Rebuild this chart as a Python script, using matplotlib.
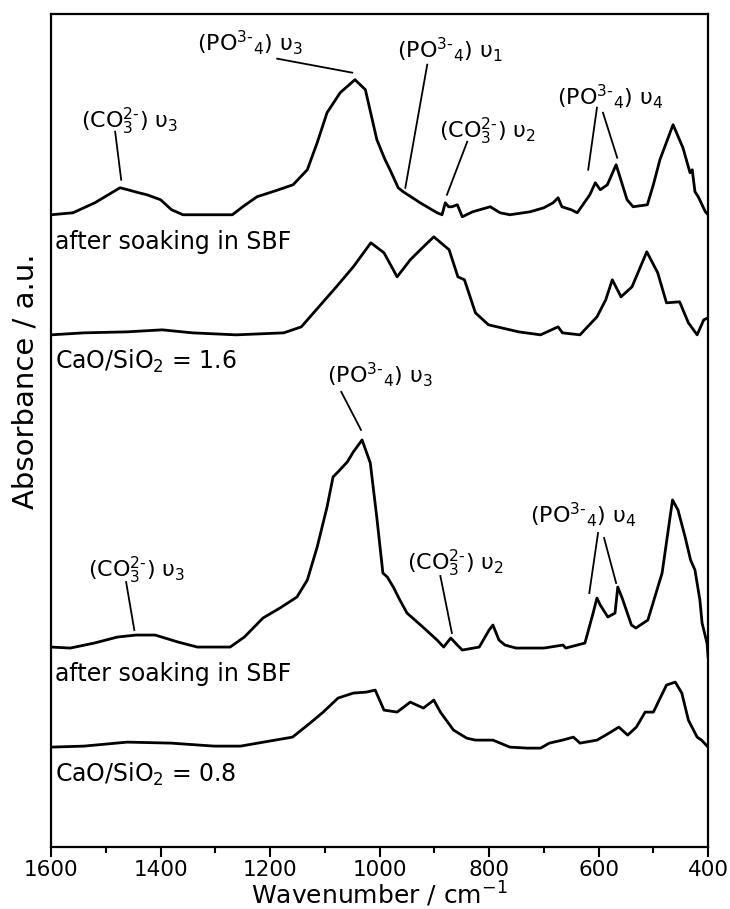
import numpy as np
import matplotlib.pyplot as plt
from matplotlib.ticker import MultipleLocator

plt.rcParams['font.family'] = ['DejaVu Sans']
plt.rcParams['mathtext.default'] = 'regular'

# FTIR spectra, wavenumber (cm-1) and absorbance above each baseline (a.u.)
wn_sbf16 = np.array([1600, 1560, 1520, 1474, 1460, 1440, 1425, 1400, 1380, 1359, 1269, 1250,
                     1224, 1190, 1158, 1132, 1114, 1096, 1072, 1045, 1026, 1005, 990, 981,
                     966, 957, 940, 926, 895, 886, 880, 874, 868, 858, 849, 830, 798, 780,
                     762, 725, 700, 683, 674, 667, 650, 639, 616, 606, 597, 584, 568, 548,
                     537, 511, 500, 488, 464, 446, 433, 429, 424, 418, 405, 400])
abs_sbf16 = np.array([0.00, 0.02, 0.12, 0.27, 0.25, 0.22, 0.20, 0.15, 0.05, 0.00, 0.00, 0.08,
                      0.18, 0.24, 0.30, 0.45, 0.72, 1.02, 1.22, 1.35, 1.25, 0.75, 0.55, 0.45,
                      0.27, 0.23, 0.17, 0.12, 0.02, 0.00, 0.12, 0.08, 0.08, 0.10, -0.02, 0.03,
                      0.08, 0.02, 0.00, 0.03, 0.07, 0.12, 0.17, 0.08, 0.05, 0.02, 0.20, 0.32,
                      0.25, 0.30, 0.50, 0.15, 0.08, 0.10, 0.30, 0.55, 0.90, 0.67, 0.42, 0.45,
                      0.23, 0.18, 0.03, 0.00])

wn_16 = np.array([1600, 1540, 1461, 1397, 1342, 1262, 1175, 1143, 1111, 1079, 1048, 1016,
                  992, 968, 944, 920, 901, 873, 857, 845, 825, 801, 746, 706, 674, 666,
                  634, 603, 587, 575, 559, 539, 512, 492, 476, 452, 436, 420, 408, 400])
abs_16 = np.array([0.00, 0.02, 0.03, 0.05, 0.02, 0.00, 0.02, 0.08, 0.28, 0.48, 0.68, 0.92,
                   0.82, 0.58, 0.75, 0.88, 0.98, 0.85, 0.58, 0.55, 0.22, 0.10, 0.03, 0.00,
                   0.08, 0.02, 0.00, 0.18, 0.35, 0.55, 0.38, 0.48, 0.83, 0.62, 0.32, 0.33,
                   0.12, 0.00, 0.15, 0.17])

wn_sbf08 = np.array([1600, 1565, 1521, 1479, 1445, 1410, 1368, 1333, 1273, 1247, 1213, 1182,
                     1151, 1132, 1114, 1096, 1085, 1076, 1059, 1048, 1032, 1017, 1005, 994,
                     986, 975, 963, 950, 921, 895, 883, 870, 858, 849, 818, 800, 793, 782,
                     771, 751, 700, 665, 660, 625, 610, 603, 597, 583, 570, 565, 557, 540,
                     532, 510, 484, 465, 455, 442, 432, 424, 415, 411, 402, 400])
abs_sbf08 = np.array([0.00, -0.01, 0.04, 0.10, 0.12, 0.12, 0.05, 0.00, 0.00, 0.10, 0.29, 0.39,
                      0.50, 0.67, 1.00, 1.40, 1.70, 1.75, 1.85, 1.95, 2.07, 1.84, 1.29, 0.74,
                      0.70, 0.60, 0.47, 0.34, 0.20, 0.07, 0.00, 0.09, 0.02, -0.03, 0.00, 0.17,
                      0.22, 0.07, 0.02, -0.01, -0.01, 0.02, -0.01, 0.04, 0.34, 0.49, 0.42, 0.30,
                      0.34, 0.60, 0.49, 0.22, 0.19, 0.27, 0.74, 1.47, 1.37, 1.10, 0.87, 0.77,
                      0.47, 0.24, 0.04, -0.10])

wn_08 = np.array([1600, 1540, 1461, 1381, 1302, 1254, 1191, 1159, 1127, 1103, 1076, 1048,
                  1024, 1008, 992, 968, 944, 920, 901, 889, 865, 841, 825, 793, 762, 730,
                  706, 690, 666, 646, 634, 603, 587, 563, 547, 531, 515, 500, 476, 460,
                  448, 436, 420, 412, 400])
abs_08 = np.array([0.00, 0.01, 0.05, 0.04, 0.01, 0.01, 0.07, 0.10, 0.24, 0.35, 0.49, 0.54,
                   0.55, 0.57, 0.37, 0.35, 0.45, 0.39, 0.47, 0.35, 0.17, 0.09, 0.07, 0.07,
                   0.00, -0.01, -0.01, 0.04, 0.07, 0.10, 0.04, 0.07, 0.12, 0.20, 0.12, 0.20,
                   0.35, 0.35, 0.62, 0.65, 0.54, 0.27, 0.10, 0.07, 0.00])

# vertical stacking of the four spectra
offsets = [6.32, 5.12, 2.00, 1.00]
sample_labels = ['after soaking in SBF', r'CaO/SiO$_2$ = 1.6',
                 'after soaking in SBF', r'CaO/SiO$_2$ = 0.8']

fig = plt.figure(figsize=(7.3, 9.09), dpi=100)
ax = fig.add_axes([0.070, 0.068, 0.900, 0.917])

spectra = [(wn_sbf16, abs_sbf16), (wn_16, abs_16), (wn_sbf08, abs_sbf08), (wn_08, abs_08)]
for (wn, a), off in zip(spectra, offsets):
    ax.plot(wn, a + off, color='black', lw=2.0, solid_joinstyle='round')

# sample names under each baseline
for off, lab in zip(offsets, sample_labels):
    ax.text(1593, off - 0.27, lab, fontsize=17, ha='left', va='center')

# band assignments: text position, then pointer lines
po4_v3 = r'(PO$^{3\text{-}}{}_{4}$) υ$_3$'
po4_v1 = r'(PO$^{3\text{-}}{}_{4}$) υ$_1$'
po4_v4 = r'(PO$^{3\text{-}}{}_{4}$) υ$_4$'
co3_v3 = r'(CO$_3^{2\text{-}}$) υ$_3$'
co3_v2 = r'(CO$_3^{2\text{-}}$) υ$_2$'

bands = [
    (co3_v3, 1456, 7.25, [((1483, 7.15), (1472, 6.67))]),
    (po4_v3, 1237, 8.04, [((1187, 7.88), (1050, 7.74))]),
    (po4_v1, 871, 7.97, [((913, 7.82), (953, 6.59))]),
    (co3_v2, 802, 7.15, [((840, 7.05), (877, 6.52))]),
    (po4_v4, 579, 7.50, [((603, 7.39), (619, 6.77)), ((592, 7.34), (566, 6.89))]),
    (po4_v3, 1000, 4.72, [((1070, 4.55), (1034, 4.17))]),
    (co3_v3, 1443, 2.77, [((1463, 2.65), (1448, 2.17))]),
    (co3_v2, 862, 2.84, [((889, 2.71), (868, 2.14))]),
    (po4_v4, 628, 3.32, [((601, 3.14), (617, 2.54)), ((590, 3.09), (568, 2.64))]),
]
for txt, tx, ty, lines in bands:
    ax.text(tx, ty, txt, fontsize=16, ha='center', va='center')
    for (x0, y0), (x1, y1) in lines:
        ax.plot([x0, x1], [y0, y1], color='black', lw=1.3)

ax.set_xlim(1600, 400)
ax.set_ylim(0, 8.33)
ax.xaxis.set_major_locator(MultipleLocator(200))
ax.xaxis.set_minor_locator(MultipleLocator(100))
ax.tick_params(axis='x', which='major', direction='out', length=7, width=1.5,
               labelsize=15.5, pad=2, top=False)
ax.tick_params(axis='x', which='minor', direction='out', length=4, width=1.5, top=False)
ax.set_yticks([])
for sp in ax.spines.values():
    sp.set_linewidth(1.6)

ax.set_xlabel(r'Wavenumber / cm$^{-1}$', fontsize=18, labelpad=0)
ax.set_ylabel('Absorbance / a.u.', fontsize=21)
ax.yaxis.set_label_coords(-0.018, 0.559)

plt.savefig('out.png', dpi=100)
